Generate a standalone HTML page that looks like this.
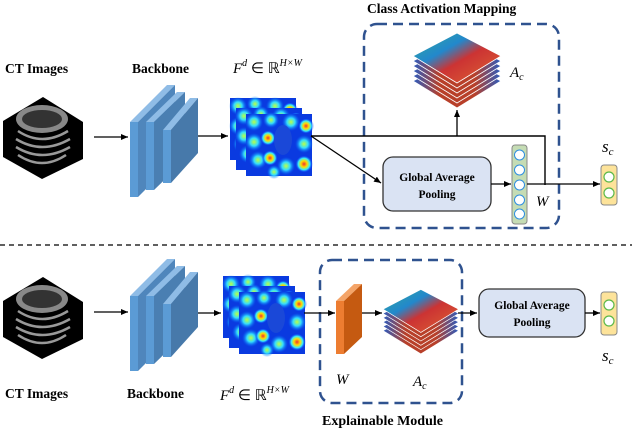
<!DOCTYPE html>
<html><head><meta charset="utf-8">
<style>
html,body{margin:0;padding:0;background:#fff;}
svg{display:block;}
.b{font-family:"Liberation Serif",serif;font-weight:bold;}
.m{font-family:"Liberation Serif",serif;font-style:italic;}
</style></head><body>
<svg width="632" height="430" viewBox="0 0 632 430" xmlns="http://www.w3.org/2000/svg">
<defs>
<marker id="ar" markerWidth="8" markerHeight="8" refX="7" refY="4" orient="auto" markerUnits="userSpaceOnUse">
<path d="M0,1 L7,4 L0,7 z" fill="#000"/></marker>
<radialGradient id="hot" cx="50%" cy="50%" r="50%"><stop offset="0" stop-color="#e33"/><stop offset="0.35" stop-color="#fd0"/><stop offset="0.65" stop-color="#3ef"/><stop offset="1" stop-color="#00f" stop-opacity="0"/></radialGradient>
<radialGradient id="cy" cx="50%" cy="50%" r="50%"><stop offset="0" stop-color="#bf4"/><stop offset="0.45" stop-color="#3df"/><stop offset="1" stop-color="#06f" stop-opacity="0"/></radialGradient>
<linearGradient id="acg" x1="0" y1="0" x2="1" y2="1"><stop offset="0" stop-color="#3a9"/><stop offset="0.35" stop-color="#28c"/><stop offset="0.55" stop-color="#c33"/><stop offset="1" stop-color="#d63"/></linearGradient>
<linearGradient id="lay" x1="0" y1="0" x2="1" y2="0"><stop offset="0" stop-color="#2a5cc0"/><stop offset="0.3" stop-color="#b8402a"/><stop offset="0.7" stop-color="#b8402a"/><stop offset="1" stop-color="#2a5cc0"/></linearGradient>
<g id="ct">
<polygon points="43,0 83,25 83,62 42,82 3,60 3,24" fill="#000"/>
<ellipse cx="42" cy="22" rx="26" ry="14" fill="#888"/>
<ellipse cx="42" cy="22" rx="20" ry="9" fill="#333"/>
<path d="M18,34 Q42,50 68,34 M16,42 Q42,58 70,42 M16,50 Q42,66 70,50 M18,58 Q42,74 66,58" stroke="#999" stroke-width="2.5" fill="none"/>
</g>
<g id="bb">
<polygon points="0,37 8,37 45,0 37,0" fill="#8fbce6"/><polygon points="8,37 45,0 45,75 8,112" fill="#4f86bc"/><rect x="0" y="37" width="8" height="75" fill="#5b9bd5"/>
<polygon points="16,37 24,37 55,7 47,7" fill="#8fbce6"/><polygon points="24,37 55,7 55,75 24,105" fill="#4a7fb2"/><rect x="16" y="37" width="8" height="68" fill="#5b9bd5"/>
<polygon points="33,45 41,45 68,13 60,13" fill="#8fbce6"/><polygon points="41,45 68,13 68,68 41,98" fill="#4779aa"/><rect x="33" y="45" width="8" height="53" fill="#5b9bd5"/>
</g>
<g id="hm1">
<rect width="66" height="62" fill="#0a3ae0"/>
<circle cx="8" cy="8" r="9" fill="url(#cy)"/><circle cx="25" cy="6" r="8" fill="url(#cy)"/><circle cx="45" cy="8" r="9" fill="url(#cy)"/><circle cx="60" cy="12" r="8" fill="url(#hot)"/>
<circle cx="8" cy="28" r="9" fill="url(#cy)"/><circle cx="22" cy="24" r="8" fill="url(#hot)"/><circle cx="58" cy="30" r="9" fill="url(#cy)"/>
<circle cx="12" cy="46" r="9" fill="url(#cy)"/><circle cx="24" cy="44" r="8" fill="url(#hot)"/><circle cx="40" cy="52" r="9" fill="url(#cy)"/><circle cx="58" cy="50" r="9" fill="url(#hot)"/><circle cx="28" cy="58" r="7" fill="url(#cy)"/>
</g>
<g id="hm">
<use href="#hm1"/><use href="#hm1" x="6" y="10"/><use href="#hm1" x="16" y="16"/>
<ellipse cx="53" cy="42" rx="9" ry="15" fill="#1a48d8"/>
</g>
<g id="ac">
<g fill="url(#lay)" stroke="#fff" stroke-width="0.8">
<polygon points="0,45 44,22 88,45 44,72"/><polygon points="0,40 44,17 88,40 44,67"/><polygon points="0,35 44,12 88,35 44,62"/><polygon points="0,30 44,7 88,30 44,57"/><polygon points="0,25 44,2 88,25 44,52"/>
</g>
<polygon points="0,20 44,-3 88,20 44,47" fill="url(#acg)" stroke="#fff" stroke-width="0.8"/>
</g>
</defs>

<!-- TOP -->
<text class="b" x="5" y="73" font-size="13.5">CT Images</text>
<text class="b" x="132" y="73" font-size="13.5">Backbone</text>
<text class="m" x="233" y="73" font-size="15">F<tspan font-size="10" dy="-7">d</tspan><tspan dy="7" font-style="normal"> ∈ ℝ</tspan><tspan font-size="10" dy="-7">H×W</tspan></text>
<text class="b" x="367" y="13" font-size="13.5">Class Activation Mapping</text>
<use href="#ct" x="0" y="97"/>
<line x1="94" y1="137" x2="128" y2="137" stroke="#000" stroke-width="1.3" marker-end="url(#ar)"/>
<use href="#bb" x="130" y="85"/>
<line x1="198" y1="136" x2="228" y2="136" stroke="#000" stroke-width="1.3" marker-end="url(#ar)"/>
<use href="#hm" x="230" y="98"/>
<rect x="364" y="24" width="195" height="204" rx="13" fill="none" stroke="#2f528f" stroke-width="2.5" stroke-dasharray="10,6"/>
<use href="#ac" x="413" y="36"/>
<text class="m" x="510" y="77" font-size="15">A<tspan font-size="10" dy="3">c</tspan></text>
<polyline points="311,136 545,136 545,185" fill="none" stroke="#000" stroke-width="1.4"/>
<line x1="457" y1="136" x2="457" y2="110" stroke="#000" stroke-width="1.3" marker-end="url(#ar)"/>
<line x1="311" y1="136" x2="381" y2="183" stroke="#000" stroke-width="1.3" marker-end="url(#ar)"/>
<rect x="383" y="157" width="108" height="54" rx="10" fill="#dae3f3" stroke="#333" stroke-width="1.3"/>
<text class="b" x="437" y="181" font-size="11.5" text-anchor="middle">Global Average</text>
<text class="b" x="437" y="198" font-size="11.5" text-anchor="middle">Pooling</text>
<line x1="491" y1="184" x2="511" y2="184" stroke="#000" stroke-width="1.3" marker-end="url(#ar)"/>
<rect x="512" y="145" width="15" height="79" rx="3" fill="#c5dcb4" stroke="#888"/>
<g fill="#fff" stroke="#2e8ee0" stroke-width="1"><circle cx="519.5" cy="155" r="5"/><circle cx="519.5" cy="170" r="5"/><circle cx="519.5" cy="185" r="5"/><circle cx="519.5" cy="200" r="5"/><circle cx="519.5" cy="214" r="5"/></g>
<line x1="527" y1="184" x2="600" y2="184" stroke="#000" stroke-width="1.3" marker-end="url(#ar)"/>
<text class="m" x="536" y="206" font-size="15">W</text>
<text class="m" x="602" y="152" font-size="17">s<tspan font-size="11" dy="3">c</tspan></text>
<rect x="601" y="165" width="16" height="40" rx="3" fill="#fde39a" stroke="#888"/>
<g fill="#fff" stroke="#5db84a" stroke-width="1.2"><circle cx="609" cy="177" r="5"/><circle cx="609" cy="193" r="5"/></g>

<line x1="0" y1="245" x2="632" y2="245" stroke="#000" stroke-width="1.3" stroke-dasharray="5,4"/>

<!-- BOTTOM -->
<use href="#ct" x="0" y="277"/>
<line x1="94" y1="312" x2="128" y2="312" stroke="#000" stroke-width="1.3" marker-end="url(#ar)"/>
<use href="#bb" x="130" y="259"/>
<line x1="198" y1="313" x2="221" y2="313" stroke="#000" stroke-width="1.3" marker-end="url(#ar)"/>
<use href="#hm" x="223" y="276"/>
<text class="b" x="5" y="398" font-size="13.5">CT Images</text>
<text class="b" x="127" y="398" font-size="13.5">Backbone</text>
<text class="m" x="220" y="400" font-size="15">F<tspan font-size="10" dy="-7">d</tspan><tspan dy="7" font-style="normal"> ∈ ℝ</tspan><tspan font-size="10" dy="-7">H×W</tspan></text>
<rect x="320" y="260" width="142" height="143" rx="12" fill="none" stroke="#2f528f" stroke-width="2.5" stroke-dasharray="10,6"/>
<line x1="304" y1="313" x2="335" y2="313" stroke="#000" stroke-width="1.3" marker-end="url(#ar)"/>
<polygon points="336,301 354,284 362,284 344,301" fill="#f4a468"/>
<polygon points="344,301 362,284 362,337 344,354" fill="#c55a11"/>
<rect x="336" y="301" width="8" height="53" fill="#ed7d31"/>
<line x1="362" y1="313" x2="382" y2="313" stroke="#000" stroke-width="1.3" marker-end="url(#ar)"/>
<use href="#ac" transform="translate(383,292) scale(0.86)"/>
<line x1="458" y1="313" x2="477" y2="313" stroke="#000" stroke-width="1.3" marker-end="url(#ar)"/>
<text class="m" x="336" y="384" font-size="15">W</text>
<text class="m" x="413" y="386" font-size="15">A<tspan font-size="10" dy="3">c</tspan></text>
<rect x="479" y="289" width="106" height="48" rx="10" fill="#dae3f3" stroke="#333" stroke-width="1.3"/>
<text class="b" x="532" y="309" font-size="11.5" text-anchor="middle">Global Average</text>
<text class="b" x="532" y="326" font-size="11.5" text-anchor="middle">Pooling</text>
<line x1="585" y1="313" x2="600" y2="313" stroke="#000" stroke-width="1.3" marker-end="url(#ar)"/>
<rect x="601" y="292" width="16" height="43" rx="3" fill="#fde39a" stroke="#888"/>
<g fill="#fff" stroke="#5db84a" stroke-width="1.2"><circle cx="609" cy="305" r="5"/><circle cx="609" cy="321" r="5"/></g>
<text class="m" x="602" y="361" font-size="17">s<tspan font-size="11" dy="3">c</tspan></text>
<text class="b" x="322" y="425" font-size="14">Explainable Module</text>
</svg>
</body></html>
